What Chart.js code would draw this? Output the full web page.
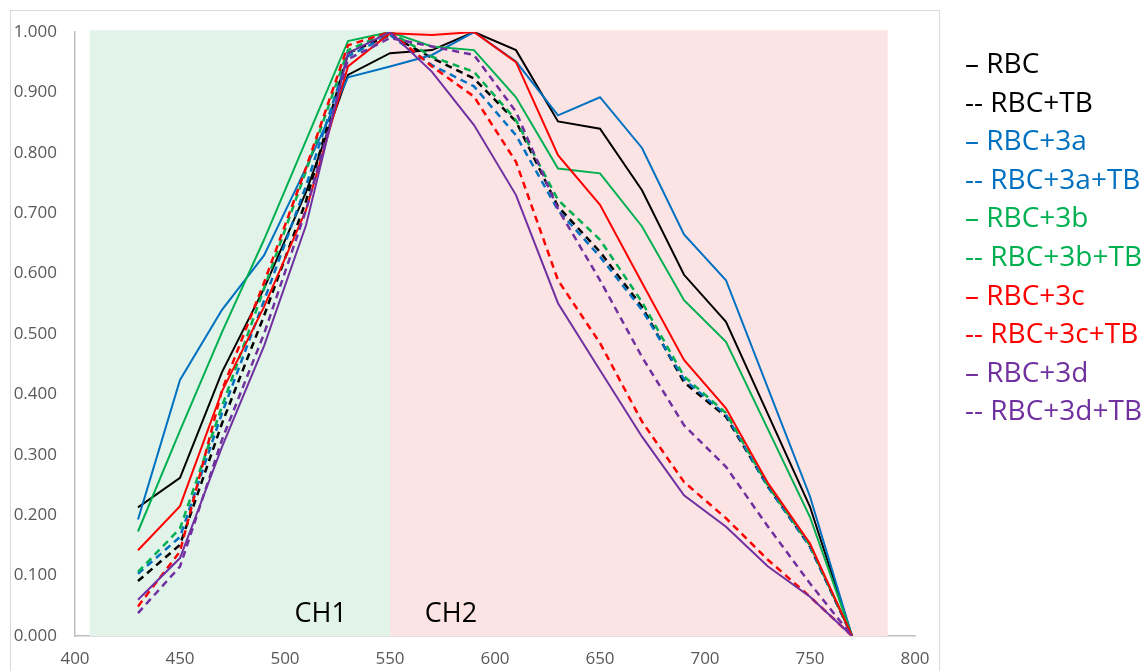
<!DOCTYPE html>
<html lang="en">
<head>
  <meta charset="UTF-8">
  <title>RBC spectra</title>
  <style>
    html, body { margin: 0; padding: 0; background: #fff; overflow: hidden; }
    .wrap { position: relative; width: 1145px; height: 671px; }
    .frame { position: absolute; left: 10px; top: 10px; width: 930px; height: 720px; border: 1.5px solid #d9d9d9; box-sizing: border-box; }
    canvas { position: absolute; left: 0; top: 0; }
    .legend { position: absolute; left: 965px; top: 43px; font-family: "Open Sans", sans-serif; font-size: 28px; line-height: 38.6px; white-space: pre; }
  </style>
</head>
<body>
  <div class="wrap">
    <div class="frame"></div>
    <canvas id="chart" width="1145" height="671"></canvas>
    <div class="legend" id="legend"></div>
  </div>

  <script src="https://cdn.jsdelivr.net/npm/chart.js"></script>
  <script>

const wavelengths = [430, 450, 470, 490, 510, 530, 550, 570, 590, 610, 630, 650, 670, 690, 710, 730, 750, 770];

const rbc      = [0.213, 0.262, 0.437, 0.575, 0.735, 0.929, 0.965, 0.970, 1.000, 0.970, 0.852, 0.840, 0.738, 0.598, 0.520, 0.367, 0.214, 0.000];
const rbcTB    = [0.091, 0.151, 0.352, 0.530, 0.720, 0.965, 0.995, 0.957, 0.923, 0.852, 0.711, 0.636, 0.545, 0.420, 0.363, 0.247, 0.148, 0.000];
const rbc3a    = [0.193, 0.424, 0.540, 0.630, 0.775, 0.925, 0.943, 0.962, 1.000, 0.951, 0.862, 0.892, 0.808, 0.665, 0.589, 0.410, 0.231, 0.000];
const rbc3aTB  = [0.103, 0.164, 0.369, 0.555, 0.745, 0.960, 0.995, 0.945, 0.910, 0.829, 0.705, 0.628, 0.540, 0.425, 0.366, 0.247, 0.148, 0.000];
const rbc3b    = [0.173, 0.340, 0.503, 0.656, 0.820, 0.985, 1.000, 0.976, 0.970, 0.892, 0.774, 0.766, 0.678, 0.556, 0.487, 0.342, 0.197, 0.000];
const rbc3bTB  = [0.106, 0.178, 0.380, 0.575, 0.770, 0.970, 1.000, 0.959, 0.934, 0.854, 0.722, 0.656, 0.553, 0.430, 0.369, 0.249, 0.150, 0.000];
const rbc3c    = [0.142, 0.215, 0.405, 0.545, 0.705, 0.943, 0.998, 0.995, 1.000, 0.950, 0.796, 0.714, 0.585, 0.457, 0.377, 0.253, 0.153, 0.000];
const rbc3cTB  = [0.049, 0.140, 0.407, 0.585, 0.775, 0.978, 1.000, 0.943, 0.893, 0.785, 0.589, 0.485, 0.355, 0.255, 0.195, 0.126, 0.065, 0.000];
const rbc3d    = [0.060, 0.129, 0.313, 0.480, 0.680, 0.965, 1.000, 0.934, 0.846, 0.730, 0.551, 0.440, 0.330, 0.233, 0.181, 0.115, 0.065, 0.000];
const rbc3dTB  = [0.038, 0.115, 0.325, 0.500, 0.705, 0.955, 0.990, 0.976, 0.962, 0.868, 0.707, 0.589, 0.462, 0.349, 0.280, 0.181, 0.087, 0.000];

const seriesNames = ['RBC', 'RBC+TB', 'RBC+3a', 'RBC+3a+TB', 'RBC+3b', 'RBC+3b+TB', 'RBC+3c', 'RBC+3c+TB', 'RBC+3d', 'RBC+3d+TB'];
const seriesValues = [rbc, rbcTB, rbc3a, rbc3aTB, rbc3b, rbc3bTB, rbc3c, rbc3cTB, rbc3d, rbc3dTB];
const seriesColors = ['#000000', '#000000', '#0070c0', '#0070c0', '#00b050', '#00b050', '#ff0000', '#ff0000', '#7030a0', '#7030a0'];
const seriesDashed = [false, true, false, true, false, true, false, true, false, true];

// shaded channels
const bands = [
  { from: 407, to: 550, color: '#e2f4ea', label: 'CH1', labelX: 517 },
  { from: 550, to: 787, color: '#fde4e4', label: 'CH2', labelX: 579 }
];

const bandPlugin = {
  id: 'bands',
  beforeDatasetsDraw(chart) {
    const ctx = chart.ctx;
    const x = chart.scales.x;
    const y = chart.scales.y;
    ctx.save();
    bands.forEach(b => {
      ctx.fillStyle = b.color;
      const x0 = x.getPixelForValue(b.from);
      const x1 = x.getPixelForValue(b.to);
      const top = y.getPixelForValue(1.003);
      ctx.fillRect(x0, top, x1 - x0, y.bottom - top);
    });
    ctx.fillStyle = '#000';
    ctx.font = '27px "Open Sans"';
    ctx.textAlign = 'center';
    ctx.textBaseline = 'alphabetic';
    bands.forEach(b => {
      ctx.fillText(b.label, x.getPixelForValue(b.labelX), y.bottom - 14);
    });
    ctx.restore();
  }
};

let datasets = seriesNames.map((name, i) => ({
  label: name,
  data: wavelengths.map((w, j) => ({ x: w, y: seriesValues[i][j] })),
  borderColor: seriesColors[i],
  borderWidth: seriesDashed[i] ? 2.5 : 2,
  borderDash: seriesDashed[i] ? [7, 5] : [],
  pointRadius: 0,
  tension: 0,
  fill: false,
  order: seriesNames.length - i
}));

let ctx = document.getElementById('chart').getContext('2d');
new Chart(ctx, {
  type: 'line',
  data: { datasets: datasets },
  options: {
    responsive: false,
    animation: false,
    layout: { padding: { top: 32, right: 230, bottom: 0, left: 0 } },
    plugins: { legend: { display: false }, tooltip: { enabled: false } },
    scales: {
      x: {
        type: 'linear',
        min: 400,
        max: 800,
        ticks: { stepSize: 50, color: '#595959', font: { family: 'Open Sans', size: 17 }, padding: 13 },
        grid: { display: false, drawTicks: false },
        border: { display: true, color: '#bfbfbf', width: 1.5 },
        afterFit(scale) { scale.height = 35; }
      },
      y: {
        min: 0,
        max: 1,
        ticks: {
          stepSize: 0.1,
          color: '#595959',
          font: { family: 'Open Sans', size: 17 },
          padding: 18,
          callback: v => v.toFixed(3)
        },
        grid: { display: false, drawTicks: false },
        border: { display: true, color: '#bfbfbf', width: 1.5 },
        afterFit(scale) { scale.width = 75; }
      }
    }
  },
  plugins: [bandPlugin]
});

// legend as text, dash prefixes like the original
const legend = document.getElementById('legend');
seriesNames.forEach((name, i) => {
  const row = document.createElement('div');
  row.style.color = seriesColors[i];
  row.textContent = (seriesDashed[i] ? '-- ' : '\u2013 ') + name;
  legend.appendChild(row);
});

  </script>
</body>
</html>
